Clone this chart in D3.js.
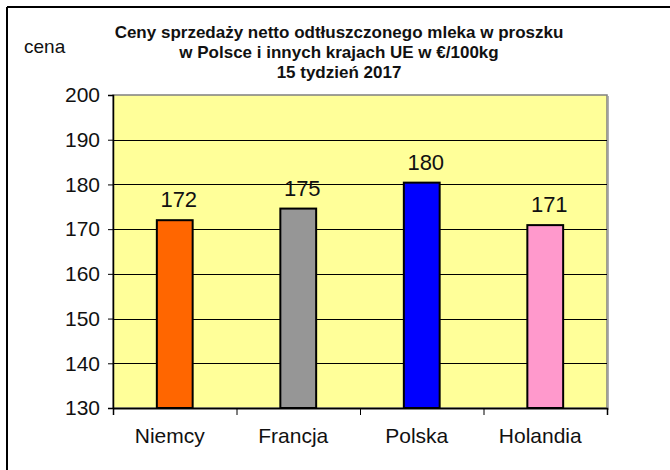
<!DOCTYPE html>
<html>
<head>
<meta charset="utf-8">
<script src="https://cdn.jsdelivr.net/npm/d3@7"></script>
<style>
  html, body { margin: 0; padding: 0; background: #fff; }
  svg { display: block; }
  text { font-family: "Liberation Sans", Arial, sans-serif; fill: #111; }
</style>
</head>
<body>
<svg id="chart" width="670" height="470"></svg>
<script>
const categories = ["Niemcy", "Francja", "Polska", "Holandia"];
const values = [172.0, 174.6, 180.4, 170.9];
const barColors = ["#FF6600", "#969696", "#0000FF", "#FF99CC"];
const yTicks = [130, 140, 150, 160, 170, 180, 190, 200];
const titleLines = [
  "Ceny sprzedaży netto odtłuszczonego mleka w proszku",
  "w Polsce i innych  krajach UE w €/100kg",
  "15 tydzień 2017"
];
const yAxisLabel = "cena";

const svg = d3.select("#chart");
const W = 670, H = 470;
const plot = { left: 113, top: 95, right: 607, bottom: 408 };

// outer frame
svg.append("line").attr("x1", 7).attr("y1", 7).attr("x2", W).attr("y2", 7)
  .attr("stroke", "#000").attr("stroke-width", 2);
svg.append("line").attr("x1", 7).attr("y1", 7).attr("x2", 7).attr("y2", H)
  .attr("stroke", "#000").attr("stroke-width", 2);

const x = d3.scaleBand().domain(categories)
  .range([plot.left, plot.right]).paddingInner(0.71).paddingOuter(0.355);
const y = d3.scaleLinear().domain([130, 200]).range([plot.bottom, plot.top]);

// plot area background
svg.append("rect").attr("x", plot.left).attr("y", plot.top)
  .attr("width", plot.right - plot.left).attr("height", plot.bottom - plot.top)
  .attr("fill", "#FFFF99").attr("stroke", "#808080").attr("stroke-width", 1.5);
svg.append("line").attr("x1", plot.right + 1.5).attr("x2", plot.right + 1.5)
  .attr("y1", plot.top + 1).attr("y2", plot.bottom + 2)
  .attr("stroke", "#b0b0b0").attr("stroke-width", 1);
svg.append("line").attr("x1", plot.left).attr("x2", plot.right + 1.5)
  .attr("y1", plot.bottom + 1.5).attr("y2", plot.bottom + 1.5)
  .attr("stroke", "#b0b0b0").attr("stroke-width", 1);

// gridlines
svg.append("g").selectAll("line").data(yTicks.filter(t => t !== 130 && t !== 200)).join("line")
  .attr("x1", plot.left).attr("x2", plot.right)
  .attr("y1", d => Math.round(y(d)) + 0.5).attr("y2", d => Math.round(y(d)) + 0.5)
  .attr("stroke", "#000").attr("stroke-width", 1);

// bars
svg.append("g").selectAll("rect").data(categories).join("rect")
  .attr("x", d => x(d)).attr("width", x.bandwidth())
  .attr("y", (d, i) => y(values[i])).attr("height", (d, i) => y(130) - y(values[i]))
  .attr("fill", (d, i) => barColors[i])
  .attr("stroke", "#000").attr("stroke-width", 2);

// value labels
svg.append("g").selectAll("text").data(categories).join("text")
  .attr("x", d => x(d) + x.bandwidth() / 2 + 4)
  .attr("y", (d, i) => y(values[i]) - 13)
  .attr("text-anchor", "middle")
  .style("font-size", "22px")
  .text((d, i) => Math.round(values[i]));

// y axis
const yAxis = svg.append("g").attr("transform", `translate(${plot.left},0)`)
  .call(d3.axisLeft(y).tickValues(yTicks).tickSize(5).tickPadding(8).tickFormat(d3.format("d")));
yAxis.select(".domain").attr("stroke", "#000").attr("stroke-width", 1.5);
yAxis.selectAll(".tick line").attr("stroke", "#000");
yAxis.selectAll(".tick text").style("font-size", "21px").attr("fill", "#111")
  .style("font-family", "'Liberation Sans', Arial, sans-serif");

// x axis
const xb = d3.scaleLinear().domain([0, categories.length]).range([plot.left, plot.right]);
const xAxis = svg.append("g").attr("transform", `translate(0,${plot.bottom})`)
  .call(d3.axisBottom(xb).tickValues(d3.range(categories.length + 1)).tickSize(7).tickFormat(""));
xAxis.select(".domain").attr("stroke", "#000").attr("stroke-width", 1.5);
xAxis.selectAll(".tick line").attr("stroke", "#000");

svg.append("g").selectAll("text").data(categories).join("text")
  .attr("x", d => x(d) + x.bandwidth() / 2 - 5)
  .attr("y", 443)
  .attr("text-anchor", "middle")
  .style("font-size", "21px")
  .text(d => d);

// title
svg.append("g").selectAll("text").data(titleLines).join("text")
  .attr("x", 339).attr("y", (d, i) => 38 + i * 20)
  .attr("text-anchor", "middle")
  .style("font-size", "17px").style("font-weight", "bold")
  .text(d => d);

// y axis label
svg.append("text").attr("x", 24).attr("y", 53)
  .style("font-size", "19px").text(yAxisLabel);
</script>
</body>
</html>
